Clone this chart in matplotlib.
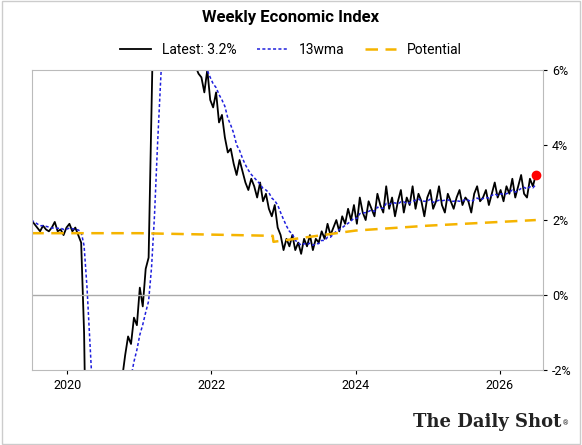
import numpy as np
import matplotlib
matplotlib.use("Agg")
import matplotlib.pyplot as plt
from matplotlib.patches import Rectangle

pre = [2.0,1.9,1.8,1.7,1.85,1.75,1.7,1.8,1.95,1.7,1.75,1.6,1.8,1.9,1.7,1.8,1.6,1.4]
crash = [-1.0,-6,-8.5,-9,-8,-7,-6,-5.2,-4.6,-4,-3.5,-3,-2.6,-2.2,-1.6,-1.1,-1.3,-0.6,-0.8,0.2,-0.3,0.7,1.0]
spike = [5,9,12,11.5,10.5,10,9.5,9,8.5,8,7.6,7.2,6.9,6.5,6.2,6.1,5.9]
decline = [5.8,5.4,6.0,5.2,5.0,5.4,4.6,4.8,4.2,3.8,3.9,3.5,3.2,3.6,3.3,3.0,2.8,
           3.1,2.9,2.6,3.0,2.5,2.7,2.3,2.1,2.4,1.8,1.6,1.2,1.5]
trough = [1.3,1.6,1.2,1.4,1.1,1.5,1.3,1.6,1.2,1.5,1.4,1.7,1.5,1.9,1.6,1.8,2.0,1.7,2.1,1.9,2.3]
recent = [2.0,2.4,1.9,2.6,2.2,2.0,2.5,2.3,2.1,2.7,2.4,2.2,2.9,2.3,2.6,2.1,2.5,2.8,2.2,2.6,
          2.4,2.9,2.3,2.7,2.5,2.1,2.6,2.8,2.3,2.5,2.9,2.4,2.2,2.7,2.5,2.3,2.6,2.8,2.4,2.6,
          2.5,2.2,2.7,2.9,2.5,2.6,2.8,2.4,2.7,3.0,2.6,2.8,2.5,2.9,2.7,3.1,2.6,2.9,3.2,2.7,
          2.6,3.1,2.9,3.2]
latest = np.array(pre + crash + spike + decline + trough + recent)
t = np.linspace(2019.5, 2026.5, len(latest))

pot_t = [2019.5, 2021.0, 2022.85, 2022.86, 2024.0, 2025.0, 2026.5]
pot_v = [1.65, 1.65, 1.58, 1.42, 1.72, 1.85, 2.0]

wma = np.convolve(latest, np.ones(7) / 7, mode="full")[:len(latest)]
wma[:6] = [np.mean(latest[:i + 1]) for i in range(6)]

plt.rcParams['font.family'] = ['Roboto', 'DejaVu Sans']
fig = plt.figure(figsize=(5.82, 4.45), dpi=100)
fig.patches.append(Rectangle((0.003, 0.003), 0.994, 0.994, transform=fig.transFigure,
                             fill=False, edgecolor="#cccccc", lw=1))
ax = fig.add_axes([0.055, 0.168, 0.878, 0.675])
ax.plot(t, latest, color="black", lw=1.3, label="Latest: 3.2%")
ax.plot(t, wma, color="#1f1fdd", lw=1.1, ls=(0, (2, 1.5)), label="13wma")
ax.plot(pot_t, pot_v, color="#f5b400", lw=1.8, ls=(0, (5, 3)), label="Potential")
ax.plot(t[-1], latest[-1], "o", color="red", ms=6)
ax.axhline(0, color="#aaaaaa", lw=1)
ax.set_xlim(2019.51, 2026.6)
ax.set_ylim(-2, 6)
ax.yaxis.tick_right()
ax.set_yticks([-2, 0, 2, 4, 6])
ax.set_yticklabels(["-2%", "0%", "2%", "4%", "6%"])
ax.set_xticks([2020, 2022, 2024, 2026])
ax.set_xticklabels(["2020", "2022", "2024", "2026"])
ax.tick_params(labelsize=9, length=3)
for s in ax.spines.values():
    s.set_color("#bbbbbb")
fig.text(0.5, 0.95, "Weekly Economic Index", ha="center", fontsize=12, fontweight="bold")
fig.legend(loc="center", bbox_to_anchor=(0.5, 0.887), ncol=3, frameon=False, fontsize=10,
           handlelength=2.2, columnspacing=1.5)
fig.text(0.965, 0.04, "The Daily Shot", ha="right", fontsize=13, family="DejaVu Serif",
         fontweight="bold", color="#222222")
fig.text(0.967, 0.045, "®", ha="left", fontsize=5, color="#222222")
fig.savefig("out.png", dpi=100)
